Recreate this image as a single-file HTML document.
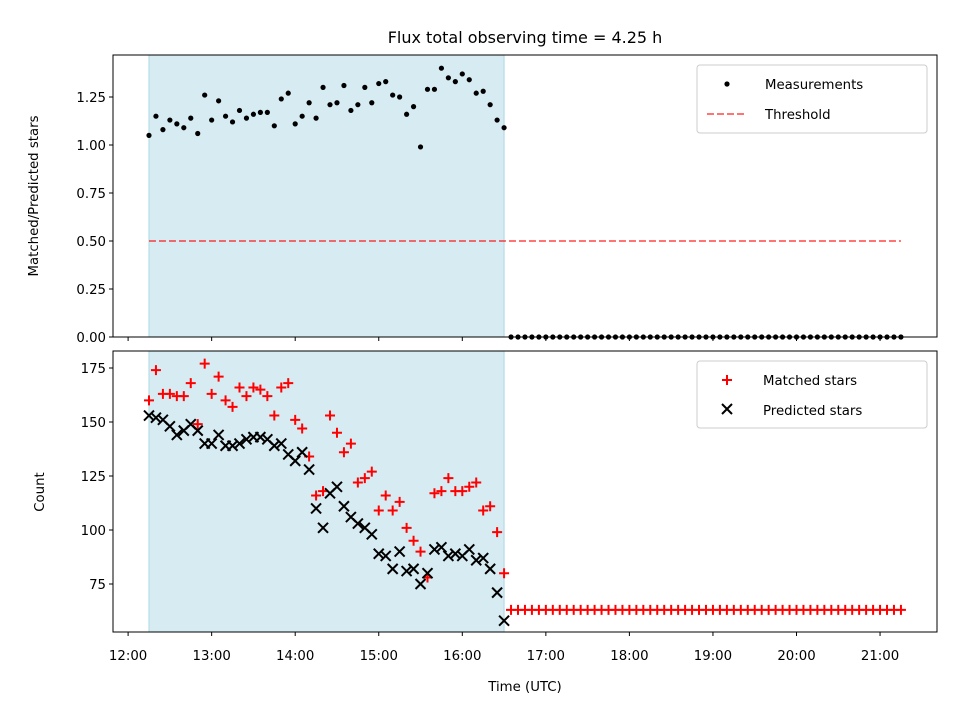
<!DOCTYPE html>
<html><head><meta charset="utf-8"><style>
body{margin:0;background:#fff;font-family:"Liberation Sans","DejaVu Sans",sans-serif}
svg text{font-family:"DejaVu Sans","Liberation Sans",sans-serif;font-size:13.3px;fill:#000}
</style></head><body>
<svg id="chart" width="960" height="720" viewBox="0 0 960 720" xmlns="http://www.w3.org/2000/svg">
<text x="525" y="43" text-anchor="middle" style="font-size:16px">Flux total observing time = 4.25 h</text>
<g id="top"></g><g id="bot"></g>
</svg>
<script>
const ratio=[1.05,1.15,1.08,1.13,1.11,1.09,1.14,1.06,1.26,1.13,1.23,1.15,1.12,1.18,1.14,1.16,1.17,1.17,1.10,1.24,1.27,1.11,1.15,1.22,1.14,1.30,1.21,1.22,1.31,1.18,1.21,1.30,1.22,1.32,1.33,1.26,1.25,1.16,1.20,0.99,1.29,1.29,1.40,1.35,1.33,1.37,1.34,1.27,1.28,1.21,1.13,1.09];
const matched=[160,174,163,163,162,162,168,149,177,163,171,160,157,166,162,166,165,162,153,166,168,151,147,134,116,118,153,145,136,140,122,124,127,109,116,109,113,101,95,90,78,117,118,124,118,118,120,122,109,111,99,80];
const predicted=[153,152,151,148,144,146,149,146,140,140,144,139,139,140,142,143,143,142,139,140,135,132,136,128,110,101,117,120,111,106,103,101,98,89,88,82,90,81,82,75,80,91,92,88,89,88,91,86,87,82,71,58];
const startHour=12.25, stepMin=5, offCount=57, offCount_matched=63, threshold=0.5;
const spanStart=12.25, spanEnd=16.5;
const xTicks=[12,13,14,15,16,17,18,19,20,21];
const topTicks=[0,0.25,0.5,0.75,1.0,1.25];
const botTicks=[75,100,125,150,175];

const NS='http://www.w3.org/2000/svg';
const X0=113,X1=937;
const xs=h=>128.1+(h-12)*83.55;
const yT=v=>337-v*192;
const yB=v=>368+(175-v)*2.16;
function el(p,t,a){const e=document.createElementNS(NS,t);for(const k in a)e.setAttribute(k,a[k]);p.appendChild(e);return e;}
const gTop=document.getElementById('top'),gBot=document.getElementById('bot');
const tOf=i=>startHour+i*stepMin/60;

function frame(g,y0,y1,name){
  let s=el(g,'rect',{x:xs(spanStart),y:y0,width:xs(spanEnd)-xs(spanStart),height:y1-y0,fill:'#add8e6','fill-opacity':0.5,stroke:'#add8e6'});
  
  
}
function axesBox(g,y0,y1,name){
  let r=el(g,'rect',{x:X0,y:y0,width:X1-X0,height:y1-y0,fill:'none',stroke:'#000','stroke-width':1});
  
  
  xTicks.forEach(h=>{el(g,'line',{x1:xs(h),x2:xs(h),y1:y1,y2:y1+4,stroke:'#000'});});
}
// top
frame(gTop,55,337,'top');
let thr=el(gTop,'line',{x1:xs(startHour),x2:xs(tOf(51+offCount)),y1:yT(threshold),y2:yT(threshold),stroke:'#ff0000','stroke-opacity':0.55,'stroke-width':2,'stroke-dasharray':'7,3'});


ratio.forEach((v,i)=>{const c=el(gTop,'circle',{cx:xs(tOf(i)),cy:yT(v),r:2.6,fill:'#000'});

});
for(let i=52;i<52+offCount;i++){const c=el(gTop,'circle',{cx:xs(tOf(i)),cy:yT(0),r:2.6,fill:'#000'});

}
axesBox(gTop,55,337,'top');
topTicks.forEach(v=>{el(gTop,'line',{x1:X0-4,x2:X0,y1:yT(v),y2:yT(v),stroke:'#000'});
const t=el(gTop,'text',{x:X0-7,y:yT(v)+5,'text-anchor':'end'});t.textContent=v.toFixed(2);

});
let yl=el(gTop,'text',{x:0,y:0,'text-anchor':'middle',transform:'translate(38,196) rotate(-90)'});yl.textContent='Matched/Predicted stars';


let lg=el(gTop,'g',{});


el(lg,'rect',{x:697,y:65,width:230,height:68,rx:3,fill:'#fff','fill-opacity':0.8,stroke:'#ccc'});
el(lg,'circle',{cx:727,cy:84,r:2.6,fill:'#000'});
let lt=el(lg,'text',{x:765,y:89});lt.textContent='Measurements';
el(lg,'line',{x1:707,x2:747,y1:114,y2:114,stroke:'#ff0000','stroke-opacity':0.55,'stroke-width':2,'stroke-dasharray':'7,3'});
lt=el(lg,'text',{x:765,y:119});lt.textContent='Threshold';

// bottom
frame(gBot,351,632,'bottom');
function plus(x,y,name){const p=el(gBot,'path',{d:`M${x-5} ${y}H${x+5}M${x} ${y-5}V${y+5}`,stroke:'#ff0000','stroke-width':2});

}
function cross(x,y){const p=el(gBot,'path',{d:`M${x-5} ${y-5}L${x+5} ${y+5}M${x-5} ${y+5}L${x+5} ${y-5}`,stroke:'#000','stroke-width':2});

}
matched.forEach((v,i)=>plus(xs(tOf(i)),yB(v),'matched-star-point'));
for(let i=52;i<52+offCount;i++)plus(xs(tOf(i)),yB(offCount_matched),'matched-star-off');
predicted.forEach((v,i)=>cross(xs(tOf(i)),yB(v)));
axesBox(gBot,351,632,'bottom');
botTicks.forEach(v=>{el(gBot,'line',{x1:X0-4,x2:X0,y1:yB(v),y2:yB(v),stroke:'#000'});
const t=el(gBot,'text',{x:X0-7,y:yB(v)+5,'text-anchor':'end'});t.textContent=v;

});
xTicks.forEach(h=>{const t=el(gBot,'text',{x:xs(h),y:660,'text-anchor':'middle'});t.textContent=h+':00';

});
let xl=el(gBot,'text',{x:525,y:691,'text-anchor':'middle'});xl.textContent='Time (UTC)';


let yl2=el(gBot,'text',{x:0,y:0,'text-anchor':'middle',transform:'translate(44,492) rotate(-90)'});yl2.textContent='Count';


let lg2=el(gBot,'g',{});


el(lg2,'rect',{x:697,y:361,width:230,height:67,rx:3,fill:'#fff','fill-opacity':0.8,stroke:'#ccc'});
el(lg2,'path',{d:'M722 380H732M727 375V385',stroke:'#ff0000','stroke-width':2});
let l2=el(lg2,'text',{x:763,y:385});l2.textContent='Matched stars';
el(lg2,'path',{d:'M722 404L732 414M722 414L732 404',stroke:'#000','stroke-width':2});
l2=el(lg2,'text',{x:763,y:415});l2.textContent='Predicted stars';
</script>
</body></html>
